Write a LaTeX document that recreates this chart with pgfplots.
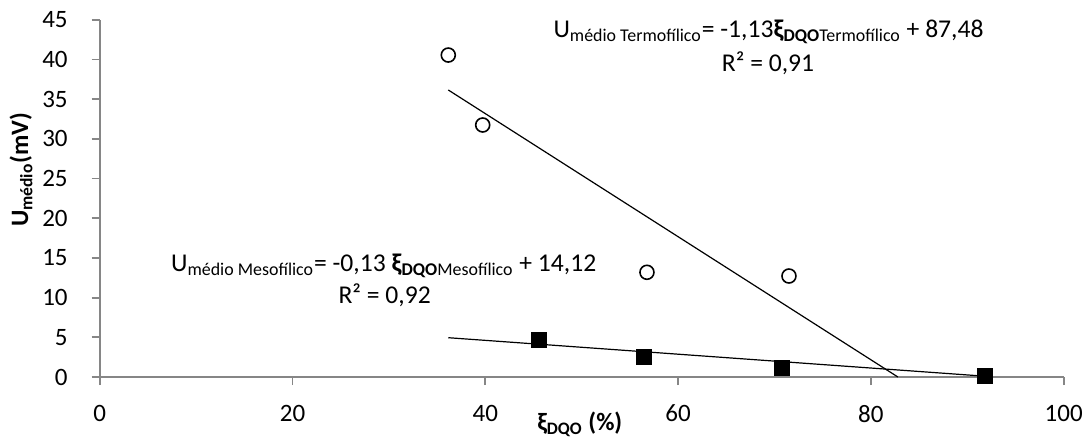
\documentclass[border=0pt]{standalone}
\usepackage{fontspec}
\setmainfont{Carlito}
\usepackage{pgfplots}
\pgfplotsset{compat=1.18}
\definecolor{axisgray}{RGB}{134,134,134}
\begin{document}
\begin{tikzpicture}
\begin{axis}[
  scale only axis, width=482pt, height=178.65pt,
  xmin=0, xmax=100, ymin=0, ymax=45,
  xtick={0,20,40,60,80,100}, ytick={0,5,10,15,20,25,30,35,40,45},
  axis lines=left, axis line style={-, draw=axisgray, line width=0.9pt},
  tick style={draw=axisgray, line width=0.9pt},
  tick align=outside, major tick length=4pt,
  /pgf/number format/assume math mode=true,
  ticklabel style={font=\fontsize{12.5}{15}\selectfont},
  xticklabel style={anchor=north, yshift=-6.5pt},
  yticklabel style={anchor=east, xshift=-8.5pt},
  xlabel={\textbf{ξ\textsubscript{DQO} (\%)}},
  ylabel={\textbf{U\textsubscript{médio}(mV)}},
  every axis x label/.style={at={(axis description cs:0.498,-0.151)}, anchor=base, font=\fontsize{12.5}{15}\selectfont},
  every axis y label/.style={at={(axis description cs:-0.0816,0.58)}, anchor=center, rotate=90, font=\fontsize{12.5}{15}\selectfont},
  clip=false,
]
\addplot[black, line width=0.6pt] coordinates {(36.16,36.15) (82.8,0)};
\addplot[black, line width=0.6pt] coordinates {(36.16,4.95) (91.84,0.1)};
\addplot[only marks, mark=o, mark size=3.5pt, mark options={black, line width=0.8pt}] coordinates {
(36.16,40.55) (39.73,31.74) (56.77,13.19) (71.5,12.72)};
\addplot[only marks, mark=square*, mark size=3.75pt, mark options={black}] coordinates {
(45.6,4.66) (56.46,2.48) (70.8,1.2) (91.84,0.09)};
\node[anchor=base, font=\fontsize{12.8}{15}\selectfont] at (axis cs:69.38,42.78) {U\textsubscript{médio Termofílico}= -1,13\textbf{ξ}\textsubscript{\textbf{DQO}Termofílico} + 87,48};
\node[anchor=base, font=\fontsize{12.8}{15}\selectfont] at (axis cs:69.33,38.45) {R² = 0,91};
\node[anchor=base, font=\fontsize{12.8}{15}\selectfont] at (axis cs:29.46,13.26) {U\textsubscript{médio Mesofílico}= -0,13 \textbf{ξ}\textsubscript{\textbf{DQO}Mesofílico} + 14,12};
\node[anchor=base, font=\fontsize{12.8}{15}\selectfont] at (axis cs:29.56,9.28) {R² = 0,92};
\end{axis}
\pgfresetboundingbox
\path[use as bounding box] (-49.85pt,-32pt) rectangle (495.65pt,188.5pt);
\end{tikzpicture}
\end{document}
